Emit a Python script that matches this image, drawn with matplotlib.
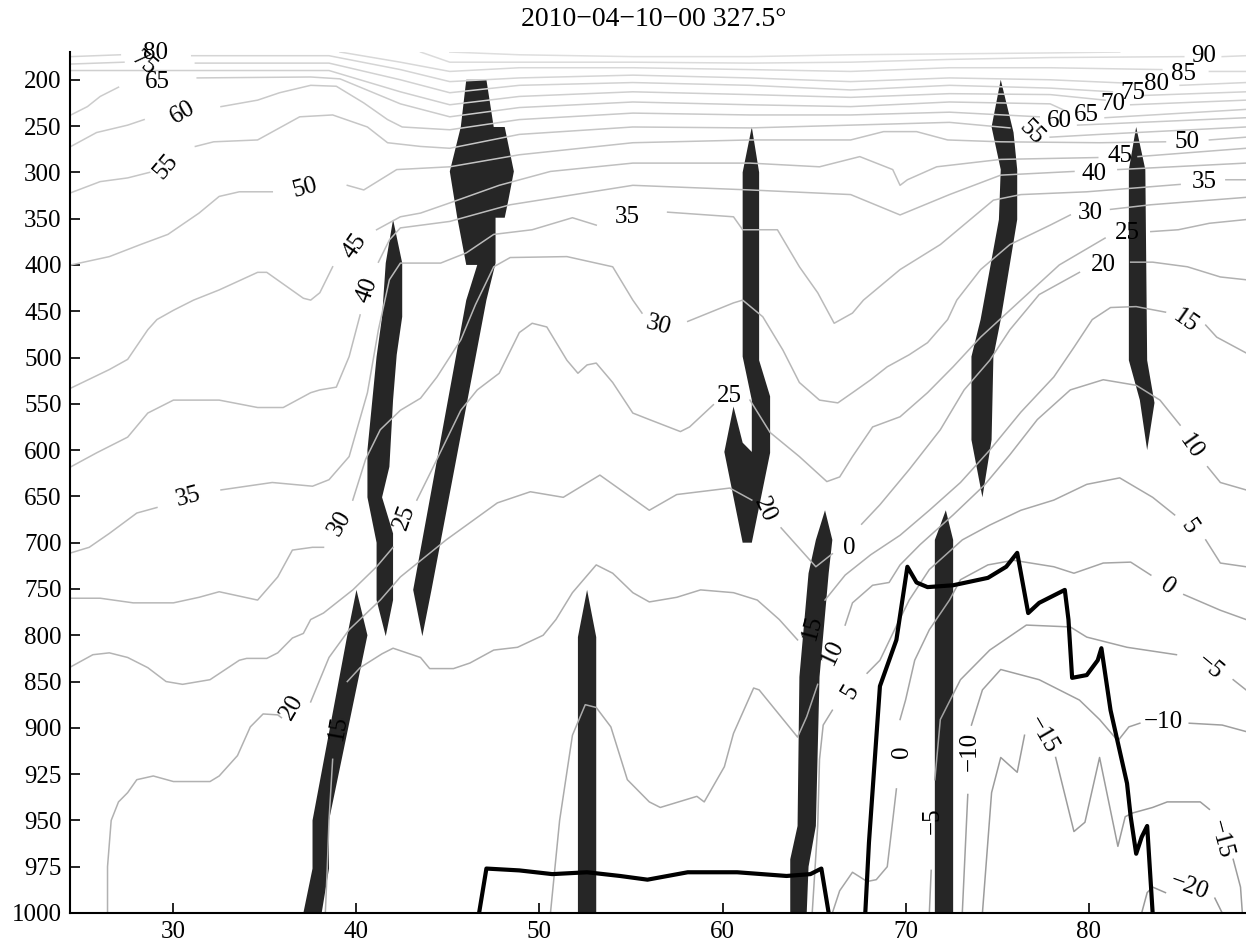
import numpy as np
import matplotlib
matplotlib.use("Agg")
import matplotlib.pyplot as plt

plt.rcParams['font.family'] = ['Liberation Serif', 'DejaVu Serif']

# pressure levels of the section (y axis is evenly spaced by level)
plev = [100, 150, 200, 250, 300, 350, 400, 450, 500, 550, 600, 650, 700, 750,
        800, 850, 900, 925, 950, 975, 1000]
ytick_levels = plev[2:]
xtick_lats = [30, 40, 50, 60, 70, 80]
title = "2010\u221204\u221210\u221200 327.5\u00b0"

# ---- gray isolines: latitude / pressure, None = break at an inline label ----
c95_lat = [45.1, 48.9, 55.1, 61.5, 67.0, 72.4, 77.9, 81.7]
c95_p = [170, 173, 175, 175, 173, 172, 171, 170]

c90_lat = [43.5, 45.1, 48.9, 55.1, 61.5, 67.0, 72.4, 77.9, 85.2, None, 87.3, 88.6]
c90_p = [170, 181, 181, 181, 182, 181, 178, 176, 175, None, 175, 174]

c85_lat = [39.1, 42.4, 45.1, 48.9, 55.1, 61.5, 67.0, 72.4, 77.9, 84.0, None, 86.6, 88.6]
c85_p = [170, 181, 191, 187, 187, 189, 191, 187, 187, 189, None, 191, 191]

c80_lat = [24.4, 27.1, None, 31.0, 38.5, 42.4, 45.1, 48.9, 55.1, 61.5, 67.0, 72.4,
           77.9, 82.5, None, 85.0, 88.6]
c80_p = [175, 173, None, 174, 174, 189, 202, 198, 195, 198, 202, 198, 200, 204,
         None, 206, 203]

c75_lat = [24.4, 27.3, None, 31.2, 38.5, 42.4, 45.1, 48.9, 55.1, 61.5, 67.0, 72.4,
           77.9, 81.3, None, 82.9, 88.6]
c75_p = [183, 181, None, 182, 182, 200, 214, 206, 203, 206, 211, 206, 209, 213,
         None, 217, 213]

c70_lat = [24.4, 31.4, 38.5, 42.4, 45.1, 48.9, 55.1, 61.5, 67.0, 72.4, 77.9, 80.9,
           None, 82.3, 88.6]
c70_p = [190, 190, 190, 213, 227, 218, 213, 216, 219, 215, 216, 222, None, 227, 222]

c65_lat = [24.4, 25.3, 26.0, 27.0, None, 31.3, 37.5, 39.1, 42.4, 45.1, 48.9, 55.1,
           61.5, 67.0, 72.4, 77.9, 78.9, None, 80.9, 88.6]
c65_p = [238, 229, 218, 208, None, 198, 197, 199, 226, 240, 230, 224, 227, 229,
         224, 226, 235, None, 241, 232]

c60_lat = [24.4, 25.8, 27.5, 28.4, None, 32.6, 34.6, 35.8, 37.5, 38.9, 40.4, 41.7,
           42.5, 45.1, 48.9, 55.1, 61.5, 67.0, 72.4, 77.3, None, 79.4, 88.6]
c60_p = [272, 257, 249, 243, None, 229, 222, 214, 206, 207, 225, 243, 251, 254,
         243, 236, 238, 238, 235, 240, None, 249, 241]

c55_lat = [24.4, 26.0, 27.5, 28.7, None, 31.2, 32.2, 34.6, 36.9, 38.7, 40.6, 41.7,
           43.5, 45.1, 48.9, 55.1, 61.5, 67.0, 72.4, 75.7, None, 77.9, 80.6, 88.6]
c55_p = [322, 310, 306, 300, None, 272, 267, 265, 240, 238, 251, 268, 272, 274,
         259, 251, 252, 249, 246, 252, None, 262, 259, 251]

c50_lat = [24.4, 26.5, 28.2, 29.7, 31.4, 32.5, 33.6, 35.4, None, 39.5, 40.4, 42.2,
           45.1, 48.9, 55.1, 61.5, 67.0, 68.8, 70.6, 72.3, 75.2, 80.6, 84.2, None,
           86.6, 88.6]
c50_p = [400, 391, 378, 367, 344, 326, 321, 321, None, 314, 319, 297, 294, 281,
         268, 265, 265, 256, 256, 265, 267, 268, 267, None, 265, 262]

c45_lat = [24.4, 26.5, 27.5, 28.6, 29.1, 30.0, 31.1, 32.5, 34.6, 35.1, 37.1, 37.5,
           38.0, 38.7, None, 41.1, 42.4, 43.5, 45.1, 47.8, 50.6, 55.1, 61.5, 65.3,
           67.5, 69.3, 69.7, 70.1, 71.7, 75.2, 80.5, None, 82.7, 88.6]
c45_p = [533, 513, 502, 470, 459, 449, 438, 427, 408, 408, 436, 438, 430, 402,
         None, 362, 348, 344, 333, 314, 299, 290, 290, 294, 283, 297, 314, 308,
         294, 286, 284, None, 283, 274]

c40_lat = [24.4, 25.8, 27.5, 28.6, 30.0, 32.5, 34.6, 36.0, 37.5, 38.0, 38.9, 39.6,
           40.2, None, 41.2, 41.8, 42.4, 45.1, 48.4, 55.1, 61.5, 67.0, 69.7, 72.4,
           75.2, 79.2, None, 81.6, 88.6]
c40_p = [618, 603, 586, 560, 546, 546, 554, 554, 538, 535, 532, 499, 454, None,
         397, 373, 360, 353, 335, 314, 319, 324, 346, 324, 303, 299, None, 297, 290]

c35_lat = [24.4, 25.4, 26.5, 28.0, 29.1, None, 32.6, 35.4, 37.6, 38.5, 39.6, 40.6,
           41.2, 41.8, 42.4, 44.6, 46.0, 47.5, 49.6, 51.8, 53.1, None, 57.0, 60.6,
           61.1, 63.0, 64.2, 65.2, 66.1, 67.1, 67.7, 69.7, 71.9, 74.8, 76.3, 79.9,
           85.0, None, 87.5, 88.6]
c35_p = [711, 705, 690, 668, 662, None, 643, 635, 639, 632, 607, 538, 470, 416,
         398, 398, 387, 367, 362, 349, 357, None, 343, 348, 362, 362, 402, 430,
         463, 452, 438, 405, 378, 330, 324, 321, 313, None, 308, 308]

c30_lat = [24.4, 26.0, 27.8, 30.0, 31.4, 32.5, 34.6, 35.7, 36.5, 37.6, 38.2, None,
           39.8, 40.5, 41.3, 42.4, 43.5, 44.4, 45.7, 46.5, 47.5, 48.4, 51.5, 54.0,
           55.1, 55.6, None, 58.1, 60.6, 61.1, 62.2, 63.3, 64.2, 65.3, 66.3, 67.1,
           68.1, 69.0, 70.2, 71.2, 72.3, 72.8, 74.1, 75.7, 77.9, 79.0, None, 81.2,
           83.4, 88.6]
c30_p = [760, 760, 765, 765, 759, 753, 762, 737, 708, 705, 705, None, 654, 610,
         578, 557, 544, 521, 481, 443, 402, 392, 391, 402, 438, 452, None, 461,
         441, 438, 456, 492, 527, 546, 549, 538, 524, 510, 497, 484, 459, 438, 405,
         378, 357, 346, None, 340, 335, 327]

c25_lat = [24.4, 25.6, 26.5, 27.5, 28.6, 29.6, 30.5, 32.0, 33.6, 34.0, 35.1, 35.7,
           36.5, 37.1, 37.5, 38.2, 39.8, 41.1, 42.0, None, 43.3, 44.2, 45.7, 46.6,
           47.8, 48.9, 49.6, 50.4, 51.5, 52.1, 52.6, 53.1, 54.0, 55.1, 56.0, 57.7,
           58.2, 59.5, None, 61.5, 62.6, 64.2, 65.7, 66.4, 67.1, 68.2, 69.7, 71.2,
           72.6, 74.1, 76.3, 78.4, 80.9, None, 83.4, 84.9, 86.6, 88.6]
c25_p = [834, 821, 819, 824, 835, 850, 853, 848, 827, 825, 825, 819, 803, 798,
         783, 776, 751, 726, 705, None, 654, 618, 557, 535, 517, 473, 463, 467,
         503, 517, 508, 506, 527, 560, 567, 580, 575, 551, None, 546, 581, 607,
         634, 629, 607, 575, 564, 538, 510, 478, 438, 400, 371, None, 364, 362,
         355, 351]

c20_lat = [26.4, 26.4, 26.6, 27.0, 27.5, 28.0, 28.9, 30.0, 32.0, 32.5, 33.5, 34.2,
           34.9, 35.7, 35.9, None, 37.5, 38.5, 39.6, 41.3, 42.4, 44.9, 47.7, 49.5,
           51.3, 53.3, 56.0, 57.5, 60.4, 61.6, None, 63.2, 65.1, 66.0, None, 67.6,
           68.6, 70.2, 71.9, 73.2, 74.6, 75.7, 77.3, 79.5, None, 82.3, 83.5, 85.4,
           87.2, 88.6]
c20_p = [1000, 975, 950, 940, 935, 928, 926, 929, 929, 926, 915, 899, 885, 886,
         889, None, 872, 824, 794, 762, 737, 697, 657, 645, 651, 627, 665, 648,
         641, 654, None, 684, 726, 712, None, 680, 659, 621, 578, 535, 503, 470,
         432, 408, None, 397, 397, 402, 413, 416]

c15_lat = [38.3, 38.4, 38.5, 38.7, None, 39.5, 40.2, 41.4, 42.0, 43.5, 44.0, 45.3,
           46.2, 47.5, 48.8, 50.2, 50.9, 51.8, 53.1, 54.0, 55.1, 56.0, 57.5, 58.8,
           60.6, 61.9, 63.1, 64.1, None, 65.6, 66.7, 68.1, 69.7, 71.3, 73.0, 74.6,
           76.3, 78.1, 79.2, 80.2, 81.2, 82.6, 84.2, None, 86.4, 87.0, 88.6]
c15_p = [1000, 977, 950, 917, None, 850, 835, 820, 814, 824, 836, 836, 830, 816,
         813, 800, 783, 754, 724, 733, 754, 764, 759, 751, 754, 762, 783, 805,
         None, 762, 735, 713, 692, 665, 635, 600, 559, 521, 489, 459, 446, 445,
         451, None, 465, 478, 495]

c10_lat = [50.6, 51.1, 51.8, 52.5, 53.1, 53.9, 54.8, 56.0, 56.6, 58.6, 59.0, 60.1,
           60.6, 61.7, 62.0, 64.1, 64.6, 65.2, None, 66.7, 67.1, 68.2, 69.1, 69.7,
           70.8, 72.6, 74.3, 75.7, 77.2, 79.0, 80.8, 82.6, 83.9, 85.0, None, 86.5,
           87.2, 88.6]
c10_p = [1000, 950, 904, 875, 878, 899, 928, 940, 943, 937, 940, 921, 903, 857,
         859, 905, 888, 853, None, 789, 765, 746, 743, 724, 702, 670, 638, 605,
         567, 535, 524, 530, 546, 573, None, 618, 635, 643]

c5_lat = [64.9, 65.2, 65.3, 65.5, 66.0, None, 67.9, 68.6, 69.4, 70.2, 71.3, 73.1,
          74.6, 76.3, 78.1, 79.9, 81.7, 83.5, 84.7, None, 86.4, 87.2, 88.6]
c5_p = [1000, 953, 917, 897, 881, None, 841, 827, 794, 762, 729, 697, 681, 665,
        654, 637, 630, 651, 670, None, 697, 722, 726]

c0_lat = [66.0, 66.4, 67.1, 67.9, 68.4, 69.0, 69.3, 69.5, None, 69.7, 70.0, 70.5,
          71.3, 72.4, 73.0, 74.5, 75.9, 78.1, 79.2, 80.8, 82.3, 83.4, None, 85.2,
          87.2, 88.6]
c0_p = [1000, 988, 978, 983, 982, 975, 950, 933, None, 891, 870, 827, 794, 762,
        740, 724, 719, 726, 733, 722, 721, 735, None, 756, 773, 783]

cm5_lat = [71.3, 71.4, None, 71.6, 71.9, 73.0, 74.6, 76.6, 79.0, 79.9, 82.1, 84.8,
           None, 87.9, 88.6]
cm5_p = [1000, 977, None, 928, 891, 848, 816, 789, 791, 802, 813, 821, None, 848, 859]

cm10_lat = [73.1, 73.4, None, 73.6, 74.2, 75.2, 77.3, 79.5, 80.6, 81.6, 82.2, 82.8,
            None, 85.5, 87.3, 88.6]
cm10_p = [1000, 936, None, 897, 859, 837, 848, 870, 891, 907, 899, 895, None, 895,
          897, 902]

cm15_lat = [74.2, 74.7, 75.2, 76.1, 76.5, None, 78.2, 79.2, 79.8, 80.6, 81.6, 82.0,
            82.4, 83.5, 84.3, 86.1, 86.6, None, 87.9, 88.3, 88.4]
cm15_p = [1000, 935, 916, 924, 904, None, 916, 956, 951, 916, 964, 948, 946, 943,
          940, 940, 944, None, 971, 986, 1000]

cm20_lat = [82.9, 83.2, 83.5, 84.2, None, 86.9, 87.3]
cm20_p = [1000, 989, 986, 989, None, 992, 1000]

# ---- inline isoline labels ----
lab_txt = ["80", "75", "65", "60", "55", "50", "45", "40", "35", "30", "25", "20",
           "15", "35", "30", "25", "20", "15", "10", "5", "0", "0", "\u221210",
           "\u22125", "\u221215", "90", "85", "80", "75", "70", "65", "60", "55",
           "50", "45", "40", "35", "30", "25", "20", "15", "10", "5", "0",
           "\u22125", "\u221210", "\u221215", "\u221220"]
lab_lat = [29.0, 28.4, 29.1, 30.5, 29.6, 37.2, 39.9, 40.6, 30.8, 39.1, 42.6, 36.5,
           39.0, 54.8, 56.5, 60.4, 62.3, 64.9, 66.0, 67.0, 66.9, 69.8, 73.5, 71.5,
           77.5, 86.3, 85.2, 83.7, 82.4, 81.3, 79.9, 78.4, 76.9, 85.4, 81.7, 80.3,
           86.3, 80.1, 82.1, 80.8, 85.3, 85.6, 85.5, 84.3, 86.6, 84.1, 87.2, 85.5]
lab_p = [171, 182, 202, 235, 294, 317, 380, 427, 651, 679, 672, 878, 900, 348, 465,
         542, 665, 792, 818, 861, 706, 913, 913, 950, 904, 174, 194, 205, 214, 226,
         238, 245, 257, 267, 282, 302, 310, 344, 365, 400, 461, 596, 683, 748, 834,
         894, 960, 986]
lab_rot = [0, -40, 0, 30, 50, 15, 55, 70, 15, 60, 70, 60, 80, 0, -15, 0, -65, 75,
           65, 60, 0, 90, 90, 90, -60, 0, 0, 0, 0, 0, 0, 0, -45, 0, 0, 0, 0, 0, 0,
           0, -35, -55, -55, -35, -40, 0, -75, -20]

# ---- dark filled bands ----
band1_lat = [42.0, 42.5, 42.5, 42.2, 42.0, 41.8, 41.4, 42.0, 42.0, 41.6, 41.1, 41.1,
             40.6, 40.6, 41.1, 41.4, 41.6]
band1_p = [351, 398, 456, 497, 546, 618, 651, 690, 762, 801, 762, 700, 651, 600,
           499, 456, 398]
band2_lat = [46.0, 47.1, 47.5, 48.1, 48.6, 48.3, 48.1, 47.6, 47.6, 47.1, 44.1, 43.6,
             43.1, 46.0, 46.6, 46.0, 45.5, 45.1, 45.7]
band2_p = [200, 200, 251, 251, 299, 330, 349, 349, 398, 438, 751, 801, 751, 438,
           400, 400, 348, 299, 251]
band3_lat = [40.0, 40.6, 38.5, 38.5, 38.1, 37.1, 37.6, 37.6, 39.5]
band3_p = [751, 800, 950, 976, 1000, 1000, 976, 950, 800]
band4_lat = [52.6, 53.1, 53.1, 52.1, 52.1]
band4_p = [751, 802, 1000, 1000, 802]
band5_lat = [61.6, 62.0, 62.0, 62.6, 62.6, 61.6, 61.1, 60.1, 60.6, 61.1, 61.6, 61.6,
             61.1, 61.1]
band5_p = [251, 300, 503, 542, 603, 700, 700, 602, 553, 592, 602, 546, 499, 300]
band6_lat = [65.6, 66.0, 65.8, 65.3, 65.1, 64.7, 64.6, 63.7, 63.7, 64.1, 64.2, 64.7,
             65.1]
band6_p = [665, 697, 733, 845, 953, 975, 1000, 1000, 971, 953, 845, 733, 697]
band7_lat = [72.2, 72.6, 72.6, 71.6, 71.6]
band7_p = [665, 697, 1000, 1000, 697]
band8_lat = [75.2, 75.9, 76.1, 76.1, 75.2, 74.8, 74.7, 74.2, 73.6, 73.6, 74.1, 75.1,
             75.2, 74.7]
band8_p = [200, 257, 297, 351, 459, 499, 589, 651, 589, 499, 459, 351, 297, 251]
band9_lat = [82.6, 83.1, 83.2, 83.6, 83.2, 82.8, 82.2, 82.2]
band9_p = [251, 297, 503, 549, 600, 546, 503, 297]

# ---- thick black outlines ----
black1_lat = [46.7, 47.1, 48.9, 50.7, 52.6, 54.4, 55.9, 58.1, 60.8, 63.5, 64.8,
              65.4, 65.8]
black1_p = [1000, 976, 977, 979, 978, 980, 982, 978, 978, 980, 979, 976, 1000]
black2_lat = [67.8, 68.0, 68.6, 69.5, 70.1, 70.6, 71.2, 72.6, 74.5, 75.5, 76.1, 76.7,
              77.3, 78.7, 78.9, 79.1, 79.9, 80.5, 80.7, 81.2, 82.1, 82.3, 82.6,
              82.9, 83.2, 83.5]
black2_p = [1000, 962, 855, 805, 726, 743, 748, 746, 738, 726, 711, 776, 765, 751,
            783, 846, 843, 827, 814, 881, 930, 948, 968, 959, 953, 1000]

levels = [95, 90, 85, 80, 75, 70, 65, 60, 55, 50, 45, 40, 35, 30, 25, 20, 15, 10,
          5, 0, -5, -10, -15, -20]
lines = [(c95_lat, c95_p), (c90_lat, c90_p), (c85_lat, c85_p), (c80_lat, c80_p),
         (c75_lat, c75_p), (c70_lat, c70_p), (c65_lat, c65_p), (c60_lat, c60_p),
         (c55_lat, c55_p), (c50_lat, c50_p), (c45_lat, c45_p), (c40_lat, c40_p),
         (c35_lat, c35_p), (c30_lat, c30_p), (c25_lat, c25_p), (c20_lat, c20_p),
         (c15_lat, c15_p), (c10_lat, c10_p), (c5_lat, c5_p), (c0_lat, c0_p),
         (cm5_lat, cm5_p), (cm10_lat, cm10_p), (cm15_lat, cm15_p),
         (cm20_lat, cm20_p)]
bands = [(band1_lat, band1_p), (band2_lat, band2_p), (band3_lat, band3_p),
         (band4_lat, band4_p), (band5_lat, band5_p), (band6_lat, band6_p),
         (band7_lat, band7_p), (band8_lat, band8_p), (band9_lat, band9_p)]

idx = np.arange(len(plev)) - 2.0


def p_to_idx(p):
    return np.interp(p, plev, idx)


def idx_to_p(i):
    return np.interp(i, idx, plev)


fig = plt.figure(figsize=(12.46, 9.5), dpi=100)
ax = fig.add_axes([70 / 1246, 37 / 950, 1 - 70 / 1246, 861 / 950])
ax.set_yscale('function', functions=(p_to_idx, idx_to_p))

for lat, p in bands:
    ax.fill(lat, p, color='#262626', lw=0, zorder=1)

for lev, (lat, p) in zip(levels, lines):
    # lighter gray for the higher values
    g = 0.60 + (lev + 20) / 115 * 0.27
    lat = np.array(lat, dtype=float)
    p = np.array(p, dtype=float)
    ax.plot(lat, p, color=(g, g, g), lw=1.1, zorder=2)

ax.plot(black1_lat, black1_p, color='black', lw=3, zorder=3)
ax.plot(black2_lat, black2_p, color='black', lw=3, zorder=3)

for t, x, y, r in zip(lab_txt, lab_lat, lab_p, lab_rot):
    ax.text(x, y, t, rotation=r, ha='center', va='center', fontsize=18,
            rotation_mode='anchor', zorder=4)

ax.set_xlim(24.35, 88.6)
ax.set_ylim(1000, 170)
ax.set_xticks(xtick_lats)
ax.set_yticks(ytick_levels)
ax.set_yticklabels([str(v) for v in ytick_levels])
ax.minorticks_off()
ax.tick_params(direction='in', length=7, width=1.2, labelsize=18, pad=6)
for s in ['top', 'right']:
    ax.spines[s].set_visible(False)
for s in ['left', 'bottom']:
    ax.spines[s].set_linewidth(1.5)

fig.text(654 / 1246, 1 - 20 / 950, title, ha='center', va='center', fontsize=20)

fig.savefig('out.png', dpi=100)
